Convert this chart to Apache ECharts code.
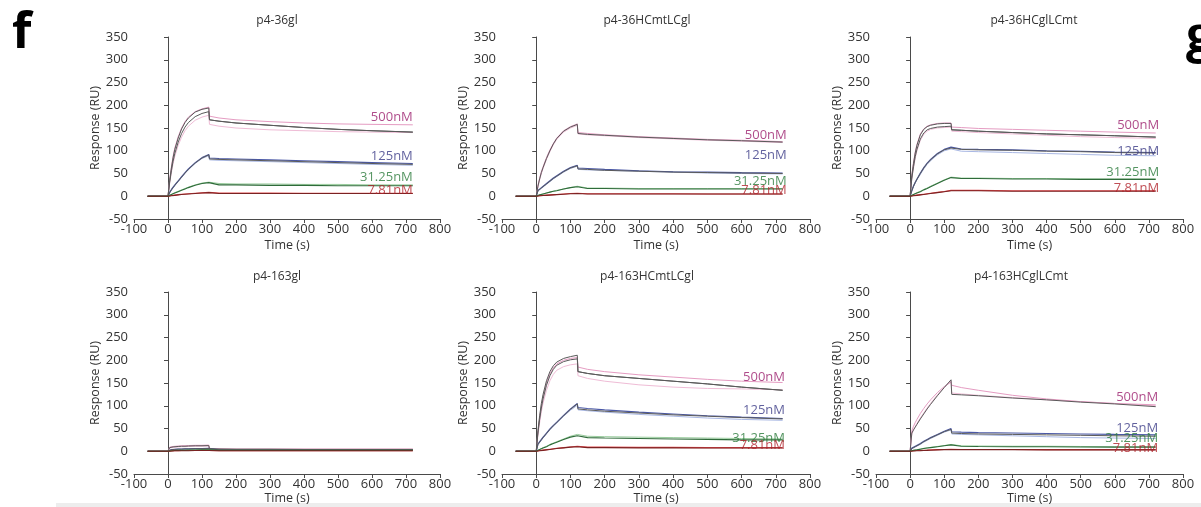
<!DOCTYPE html>
<html>
<head>
<meta charset="utf-8">
<script src="https://cdn.jsdelivr.net/npm/echarts@6/dist/echarts.min.js"></script>
<style>
html,body{margin:0;padding:0;background:#fff;}
#chart{width:1201px;height:507px;}
</style>
</head>
<body>
<div id="chart"></div>
<script>
// ---- shared time points (s) ----
const time = [-60, 0, 5, 10, 15, 20, 30, 40, 50, 60, 80, 100, 120, 122, 150, 200, 300, 400, 500, 600, 720];
const concLabels = ['500nM', '125nM', '31.25nM', '7.81nM'];
const panelTitles = ['p4-36gl', 'p4-36HCmtLCgl', 'p4-36HCglLCmt', 'p4-163gl', 'p4-163HCmtLCgl', 'p4-163HCglLCmt'];
const xTicks = [-100, 0, 100, 200, 300, 400, 500, 600, 700, 800];
const yTicks = [-50, 0, 50, 100, 150, 200, 250, 300, 350];

// ---- panel 1: p4-36gl ----
const p1_500_fit  = [0,0,35,62,85,103,128,148,162,172,185,191,194,168,165,161,156,151,147,144,141];
const p1_500_fitB = [0,0,31,56,77,94,119,138,152,162,175,182,186,168,165,161,156,151,147,144,141];
const p1_500_a    = [0,0,37,65,88,106,131,150,164,174,186,192,196,176,172,168,164,161,159,158,157];
const p1_500_b    = [0,0,29,52,72,88,112,130,144,154,167,174,178,158,154,150,146,144,142,141,140];
const p1_125_fit  = [0,0,8,14,19,24,33,42,51,59,73,84,91,82,81,80,78,76,74,72,70];
const p1_125_a    = [0,0,9,15,20,25,34,43,52,60,74,85,92,84,83,82,80,78,76,74,72];
const p1_125_b    = [0,0,7,13,18,23,32,41,50,58,72,83,89,80,79,78,76,74,72,70,68];
const p1_31_fit   = [0,0,2,4,5,7,10,13,16,19,24,28,30,26,25,25,24,24,23,23,23];
const p1_31_a     = [0,0,2,4,6,8,11,14,17,20,25,29,31,28,28,27,27,26,26,25,25];
const p1_7_fit    = [0,0,0.5,1,1.5,2,3,4,4.5,5,6,7,8,6,6,6,6,6,6,6,6];
const p1_7_a      = [0,0,1,1.5,2,2.5,3.5,4.5,5,5.5,6.5,7.5,8.5,7,7,7,7,6.5,6.5,6.5,6.5];
const p1_labelY   = [174, 87, 42, 14];

// ---- panel 2: p4-36HCmtLCgl ----
const p2_500_fit  = [0,0,22,38,52,63,83,100,115,127,143,152,158,138,136,134,130,127,124,122,119];
const p2_500_a    = [0,0,24,40,54,65,85,102,116,128,144,153,159,140,138,135,131,128,125,123,120];
const p2_500_b    = [0,0,20,36,50,61,81,98,113,125,141,150,156,137,135,133,129,126,123,121,118];
const p2_125_fit  = [0,0,12,15,18,21,27,33,39,44,54,62,67,60,59,57,55,53,52,51,50];
const p2_125_a    = [0,0,13,16,19,22,28,34,40,45,55,63,68,62,61,59,56,54,53,52,51];
const p2_125_b    = [0,0,11,14,17,20,26,32,38,43,53,61,66,59,58,57,55,53,51,50,49];
const p2_31_fit   = [0,0,2,3,4,5,7,9,11,12,16,19,21,17,17,17,16,16,16,16,16];
const p2_31_a     = [0,0,2,3,4,5,7,9,11,13,16,19,22,18,18,18,17,17,17,17,17];
const p2_7_fit    = [0,0,0.5,1,1,1.5,2,2.5,3,3.5,4.5,5.5,6,5,5,5,5,5,5,5,5];
const p2_7_a      = [0,0,0.5,1,1.5,2,2.5,3,3.5,4,5,6,6.5,5.5,5.5,5.5,5.5,5.5,5,5,5];
const p2_labelY   = [135, 91, 32, 12];

// ---- panel 3: p4-36HCglLCmt ----
const p3_500_fit  = [0,0,45,72,95,112,135,147,153,156,159,160,160,146,145,143,140,137,135,133,130];
const p3_500_fitB = [0,0,40,65,87,103,126,139,146,149,152,153,154,146,145,143,140,137,135,133,130];
const p3_500_a    = [0,0,47,75,97,114,137,148,154,157,160,161,161,152,151,149,147,145,143,141,139];
const p3_500_b    = [0,0,38,62,84,100,123,136,143,147,150,151,152,143,142,140,137,134,131,129,127];
const p3_125_fit  = [0,0,12,22,30,37,50,62,72,80,93,102,106,103,103,102,101,99,98,96,95];
const p3_125_a    = [0,0,13,23,31,38,51,63,73,81,94,103,108,105,104,103,102,100,99,97,96];
const p3_125_b    = [0,0,11,21,29,36,48,60,70,78,91,100,104,100,99,98,96,94,92,90,89];
const p3_31_fit   = [0,0,2,4,5,7,10,14,17,21,28,35,41,39,39,39,38,38,37,37,37];
const p3_31_a     = [0,0,2,4,6,8,11,15,18,22,29,36,42,40,40,40,39,39,38,38,38];
const p3_7_fit    = [0,0,0.5,1,1.5,2,3,4,5,6,8,10,12,12,12,12,11,11,11,11,11];
const p3_7_a      = [0,0,1,1.5,2,2.5,3.5,4.5,5.5,6.5,8.5,10.5,13,13,13,13,12,12,12,12,12];
const p3_labelY   = [156, 99, 53, 18];

// ---- panel 4: p4-163gl ----
const p4_500_fit  = [0,0,8,9,9.5,10,10.5,11,11,11.5,12,12,12.5,5,5,4.5,4.5,4,4,4,4];
const p4_500_a    = [0,0,9,10,10.5,11,11.5,12,12,12.5,13,13,13.5,6,5.5,5,5,5,5,5,5];
const p4_500_b    = [0,0,7,8,8.5,9,9.5,10,10,10.5,11,11,11.5,4.5,4.5,4,4,4,4,4,4];
const p4_125_fit  = [0,0,3,3.5,4,4,4.5,4.5,5,5,5.5,5.5,6,3,3,3,3,3,3,3,3];
const p4_125_a    = [0,0,3.5,4,4.5,4.5,5,5,5.5,5.5,6,6,6.5,3.5,3.5,3.5,3.5,3.5,3.5,3.5,3.5];
const p4_125_b    = [0,0,2.5,3,3.5,3.5,4,4,4.5,4.5,5,5,5.5,2.5,2.5,2.5,2.5,2.5,2.5,2.5,2.5];
const p4_31_fit   = [0,0,1,1,1.5,1.5,2,2,2,2.5,2.5,3,3,2,2,2,2,2,2,2,2];
const p4_31_a     = [0,0,1.5,1.5,2,2,2.5,2.5,2.5,3,3,3.5,3.5,2.5,2.5,2.5,2.5,2.5,2.5,2.5,2.5];
const p4_7_fit    = [0,0,0.5,0.5,0.5,1,1,1,1,1,1.5,1.5,1.5,1,1,1,1,1,1,1,1];
const p4_7_a      = [0,0,0.5,0.5,1,1,1,1.5,1.5,1.5,1.5,2,2,1,1,1,1,1,1,1,1];
const p4_labelY   = [];

// ---- panel 5: p4-163HCmtLCgl ----
const p5_500_fit  = [0,0,45,78,105,125,155,175,188,196,204,208,211,175,171,166,160,154,148,141,134];
const p5_500_fitB = [0,0,40,70,95,115,145,166,180,189,197,201,203,175,171,166,160,154,148,141,134];
const p5_500_a    = [0,0,42,74,100,120,150,170,183,192,200,204,206,185,180,175,168,163,158,154,151];
const p5_500_b    = [0,0,35,63,87,106,134,155,169,178,186,190,192,166,160,154,146,141,138,137,135];
const p5_125_fit  = [0,0,15,20,25,30,39,48,56,63,78,92,104,93,91,88,84,80,77,74,71];
const p5_125_a    = [0,0,16,21,26,31,40,49,57,64,79,93,105,96,94,91,86,82,78,75,72];
const p5_125_b    = [0,0,14,19,24,29,38,47,55,62,77,90,101,91,89,86,81,77,73,70,68];
const p5_31_fit   = [0,0,2,4,5,7,10,14,17,20,26,31,34,30,30,29,28,27,26,25,25];
const p5_31_a     = [0,0,2,4,6,8,11,15,18,21,27,33,37,34,33,32,31,30,29,28,27];
const p5_7_fit    = [0,0,0.5,1,1.5,2,3,4,5,6,7.5,9,10,8,8,8,7.5,7.5,7,7,7];
const p5_7_a      = [0,0,1,1.5,2,2.5,3.5,4.5,5.5,6.5,8,9.5,11,9,9,9,8.5,8.5,8,8,8];
const p5_labelY   = [163, 89, 29, 14];

// ---- panel 6: p4-163HCglLCmt ----
const p6_500_fit  = [0,0,40,47,53,59,71,82,93,103,122,140,157,125,124,122,117,113,108,104,98];
const p6_500_a    = [0,0,45,55,63,70,83,94,104,113,129,142,152,145,140,134,123,115,109,105,102];
const p6_500_b    = [0,0,38,47,54,61,73,84,95,105,124,140,155,128,126,123,118,113,109,105,100];
const p6_125_fit  = [0,0,6,8,10,12,16,21,25,29,36,43,48,40,39,38,37,36,35,34,33];
const p6_125_a    = [0,0,7,9,11,13,17,22,26,30,37,44,50,43,42,41,40,39,38,37,36];
const p6_125_b    = [0,0,5,7,9,11,15,20,24,28,35,42,47,38,37,36,34,32,30,29,28];
const p6_31_fit   = [0,0,1,2,2.5,3,4.5,6,7,8,10,12,14,11,11,10.5,10,10,9.5,9,9];
const p6_31_a     = [0,0,1.5,2,3,3.5,5,6.5,7.5,8.5,10.5,12.5,15,12,12,11.5,11,11,10.5,10,10];
const p6_7_fit    = [0,0,0.3,0.5,0.7,1,1.3,1.7,2,2.3,3,3.5,4,3.5,3.5,3.5,3.5,3,3,3,3];
const p6_7_a      = [0,0,0.5,1,1.2,1.5,2,2.3,2.6,3,3.5,4,4.5,4,4,4,4,3.5,3.5,3.5,3.5];
const p6_labelY   = [119, 51, 28, 6];

// ---- styling (not data) ----
const FONT = '"Open Sans", "Liberation Sans", sans-serif';
const styles = {
  pinkA: {color: '#e59cc2', width: 1},
  pinkB: {color: '#efbcd6', width: 1},
  blueA: {color: '#4a58a6', width: 1.1},
  blueB: {color: '#a9b8e4', width: 1},
  greenA: {color: '#98cc9c', width: 1},
  redA: {color: '#e0464a', width: 1.1},
  fit: {color: '#5a5a5a', width: 1},
  fitG: {color: '#2f6b3a', width: 1.1},
  fitR: {color: '#7a2222', width: 1.1}
};
const labelColors = ['#9b1e6d', '#3a3a86', '#2b7a3b', '#b0222b'];

const panels = [
  {curves: [[p1_500_b,'pinkB'],[p1_500_a,'pinkA'],[p1_125_b,'blueB'],[p1_125_a,'blueA'],[p1_31_a,'greenA'],[p1_7_a,'redA'],
            [p1_500_fitB,'fit'],[p1_500_fit,'fit'],[p1_125_fit,'fit'],[p1_31_fit,'fitG'],[p1_7_fit,'fitR']], labelY: p1_labelY, labelX: 720},
  {curves: [[p2_500_b,'pinkB'],[p2_500_a,'pinkA'],[p2_125_b,'blueB'],[p2_125_a,'blueA'],[p2_31_a,'greenA'],[p2_7_a,'redA'],
            [p2_500_fit,'fit'],[p2_125_fit,'fit'],[p2_31_fit,'fitG'],[p2_7_fit,'fitR']], labelY: p2_labelY, labelX: 732},
  {curves: [[p3_500_b,'pinkB'],[p3_500_a,'pinkA'],[p3_125_b,'blueB'],[p3_125_a,'blueA'],[p3_31_a,'greenA'],[p3_7_a,'redA'],
            [p3_500_fitB,'fit'],[p3_500_fit,'fit'],[p3_125_fit,'fit'],[p3_31_fit,'fitG'],[p3_7_fit,'fitR']], labelY: p3_labelY, labelX: 730},
  {curves: [[p4_500_b,'pinkB'],[p4_500_a,'pinkA'],[p4_125_b,'blueB'],[p4_125_a,'blueA'],[p4_31_a,'greenA'],[p4_7_a,'redA'],
            [p4_500_fit,'fit'],[p4_125_fit,'fit'],[p4_31_fit,'fitG'],[p4_7_fit,'fitR']], labelY: p4_labelY, labelX: 730},
  {curves: [[p5_500_b,'pinkB'],[p5_500_a,'pinkA'],[p5_125_b,'blueB'],[p5_125_a,'blueA'],[p5_31_a,'greenA'],[p5_7_a,'redA'],
            [p5_500_fitB,'fit'],[p5_500_fit,'fit'],[p5_125_fit,'fit'],[p5_31_fit,'fitG'],[p5_7_fit,'fitR']], labelY: p5_labelY, labelX: 727},
  {curves: [[p6_500_b,'pinkB'],[p6_500_a,'pinkA'],[p6_125_b,'blueB'],[p6_125_a,'blueA'],[p6_31_a,'greenA'],[p6_7_a,'redA'],
            [p6_500_fit,'fit'],[p6_125_fit,'fit'],[p6_31_fit,'fitG'],[p6_7_fit,'fitR']], labelY: p6_labelY, labelX: 727}
];

// layout
const gridBoxes = [
  {left: 134, top: 37, width: 306, height: 182},
  {left: 502, top: 37, width: 308, height: 182},
  {left: 876, top: 37, width: 307, height: 182},
  {left: 134, top: 292, width: 306, height: 182},
  {left: 502, top: 292, width: 308, height: 182},
  {left: 876, top: 292, width: 307, height: 182}
];
const titlePos = [[277, 21], [647, 21], [1034, 21], [277, 277], [647, 277], [1021, 277]];

const axisColor = '#4a4a4a';
const textColor = '#333333';

const grids = [], xAxes = [], yAxes = [], series = [];
gridBoxes.forEach((g, i) => {
  grids.push(Object.assign({containLabel: false}, g));
  xAxes.push({
    gridIndex: i, type: 'value', min: xTicks[0], max: xTicks[xTicks.length - 1], interval: 100,
    axisLine: {show: true, onZero: false, lineStyle: {color: axisColor, width: 1}},
    axisTick: {show: true, length: 4, lineStyle: {color: axisColor}},
    axisLabel: {fontSize: 13, color: textColor, margin: 4, fontFamily: FONT},
    splitLine: {show: false},
    name: 'Time (s)', nameLocation: 'middle', nameGap: i < 3 ? 20 : 18,
    nameTextStyle: {fontSize: 12.5, color: textColor, fontFamily: FONT}
  });
  yAxes.push({
    gridIndex: i, type: 'value', min: yTicks[0], max: yTicks[yTicks.length - 1], interval: 50,
    axisLine: {show: true, lineStyle: {color: axisColor, width: 1}},
    axisTick: {show: true, length: 4, lineStyle: {color: axisColor}},
    axisLabel: {fontSize: 13, color: textColor, margin: 6, fontFamily: FONT},
    splitLine: {show: false},
    name: 'Response (RU)', nameLocation: 'middle', nameGap: 32,
    nameTextStyle: {fontSize: 12.5, color: textColor, fontFamily: FONT}
  });
  panels[i].curves.forEach(([arr, key], k) => {
    const st = styles[key];
    series.push({
      type: 'line', xAxisIndex: i, yAxisIndex: i,
      data: time.map((t, j) => [t, arr[j]]),
      symbol: 'none', showSymbol: false, silent: true, animation: false,
      lineStyle: {color: st.color, width: st.width},
      z: 2 + k
    });
  });
  if (panels[i].labelY.length) {
    series.push({
      type: 'scatter', xAxisIndex: i, yAxisIndex: i, symbolSize: 0, silent: true, animation: false, z: 30,
      data: panels[i].labelY.map((y, k) => ({
        value: [panels[i].labelX, y],
        label: {show: true, formatter: concLabels[k], position: 'left', distance: 0,
                color: labelColors[k], fontSize: 13, fontFamily: FONT}
      }))
    });
  }
});

const graphics = [
  {type: 'rect', shape: {x: 56, y: 503, width: 1145, height: 4}, style: {fill: '#ededed'}, silent: true},
  {type: 'text', x: 12, y: 9, style: {text: 'f', font: 'bold 50px "Open Sans", sans-serif', fill: '#000', verticalAlign: 'top'}},
  {type: 'text', x: 1186, y: 13, style: {text: 'g', font: 'bold 50px "Open Sans", sans-serif', fill: '#000', verticalAlign: 'top'}}
];
titlePos.forEach((p, i) => {
  graphics.push({type: 'text', x: p[0], y: p[1], style: {text: panelTitles[i], font: '12px "Open Sans", sans-serif', fill: textColor, align: 'center', verticalAlign: 'middle'}});
});

const chart = echarts.init(document.getElementById('chart'), null, {renderer: 'canvas'});
chart.setOption({
  animation: false,
  backgroundColor: '#ffffff',
  grid: grids, xAxis: xAxes, yAxis: yAxes, series: series,
  graphic: graphics
});
</script>
</body>
</html>
